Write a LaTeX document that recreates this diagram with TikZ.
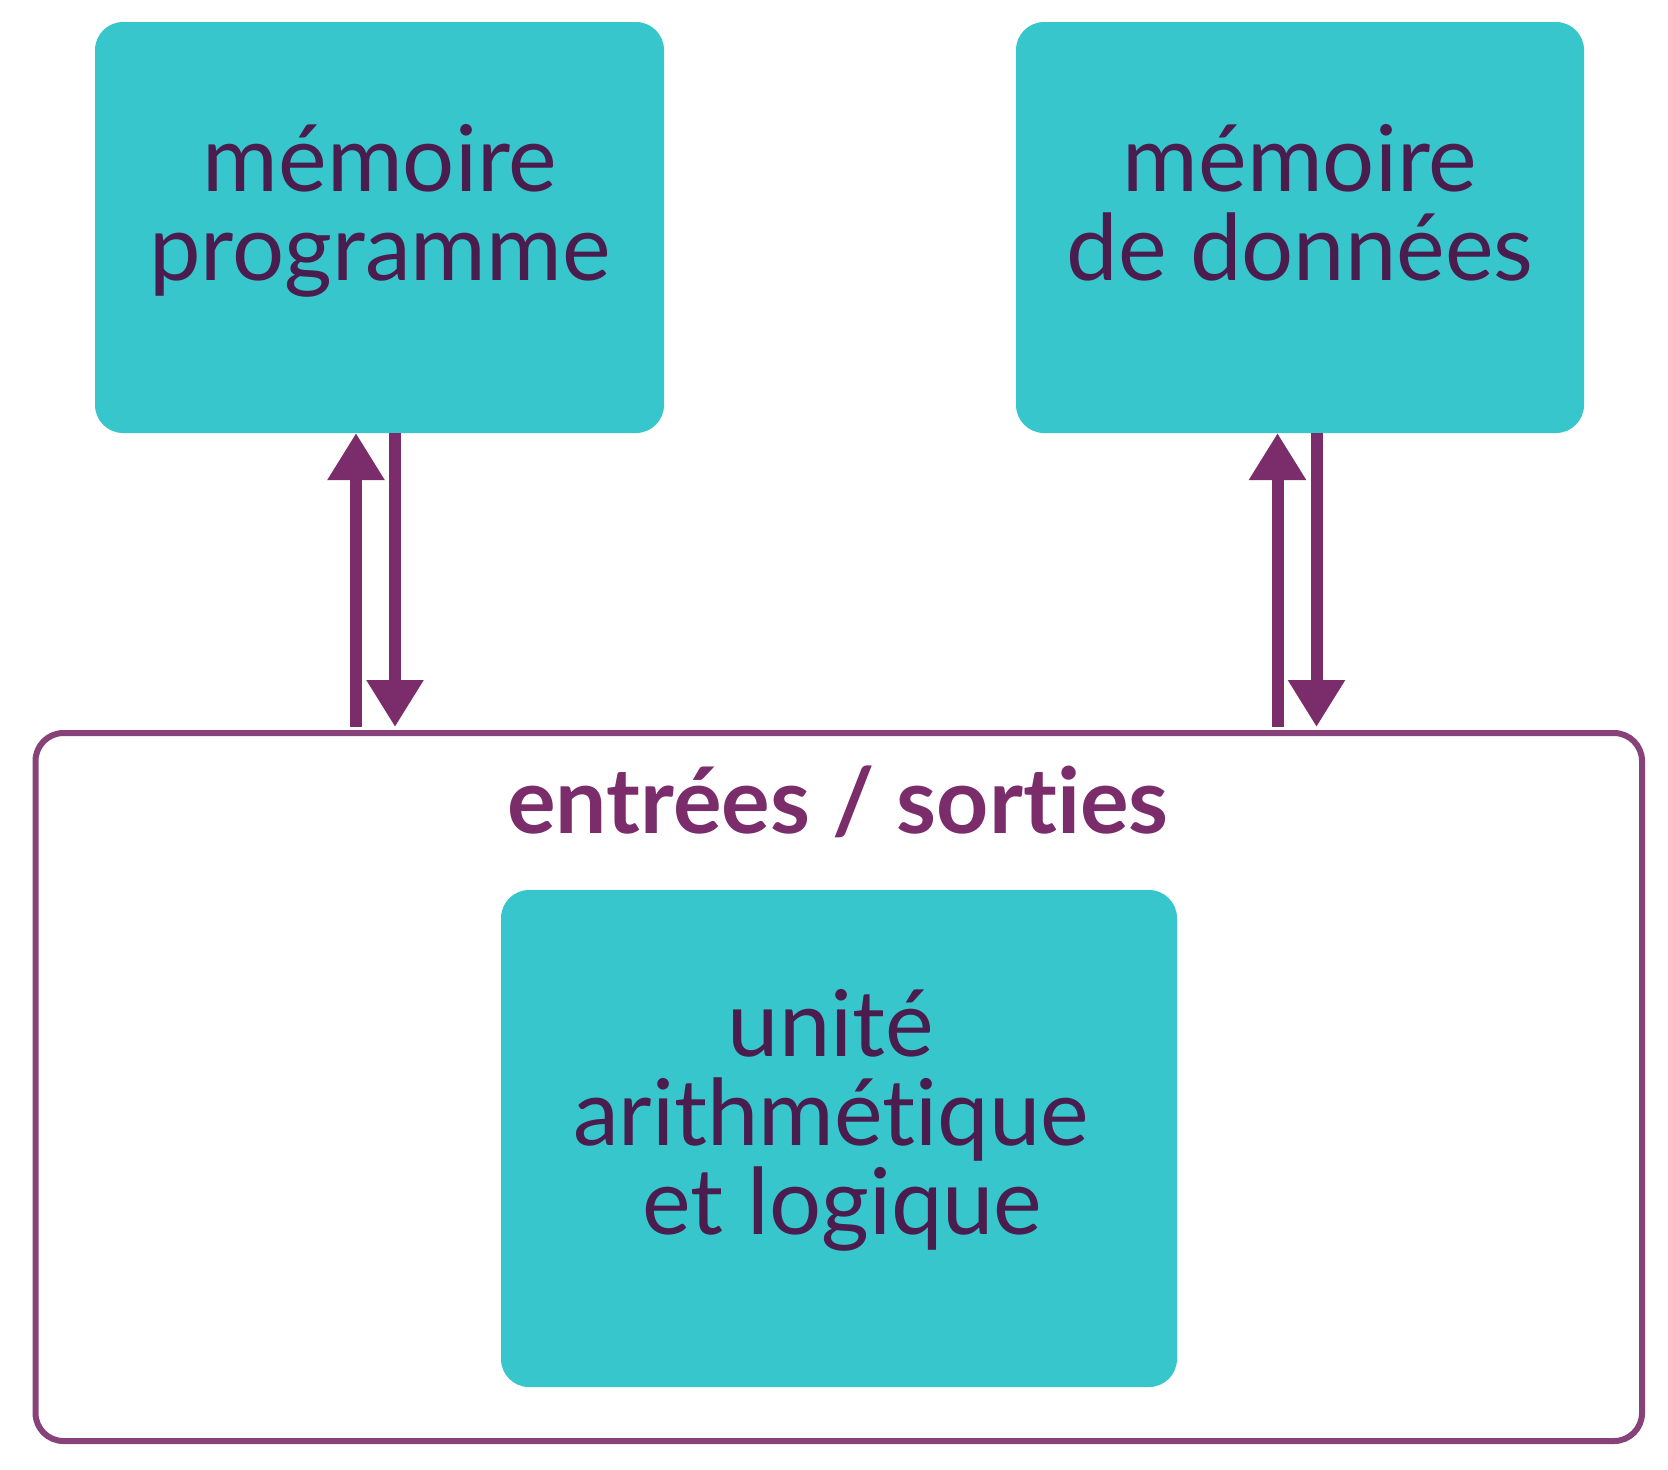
\documentclass[tikz,border=0pt]{standalone}
\usepackage{fontspec}
\setmainfont{Lato}[Ligatures=CommonOff]
\usetikzlibrary{arrows.meta}
\definecolor{tealbox}{HTML}{37C6CC}
\definecolor{inktext}{HTML}{4B1C4E}
\definecolor{plum}{HTML}{7B2C6B}
\definecolor{plumline}{HTML}{874279}
\tikzset{
	membox/.style={fill=tealbox, rounded corners=14pt, inner sep=0pt, outer sep=0pt},
	boxtext/.style={text=inktext, align=center, inner sep=0pt, font=\fontsize{46}{44.5}\selectfont},
	busarrow/.style={draw=plum, line width=6pt, -{Triangle[width=27pt,length=23.5pt]}},
}
\begin{document}
\begin{tikzpicture}[x=0.5pt, y=-0.5pt]
		\useasboundingbox (0,0) rectangle (1668,1469);

		\node[membox, minimum width=284.5pt, minimum height=205.5pt] (prog) at (379.5,227.5) {};
		\node[membox, minimum width=284pt, minimum height=205.5pt] (data) at (1300,227.5) {};
		\node[draw=plumline, line width=3pt, rounded corners=14pt, minimum width=803.25pt, minimum height=354pt, inner sep=0pt] (io) at (838.75,1087) {};
		\node[membox, minimum width=338pt, minimum height=248.5pt] (alu) at (839,1138.5) {};

		% texts, anchored on the last baseline
		\node[boxtext, anchor=base] (progtxt) at (380,280) {mémoire\\programme};
		\node[boxtext, anchor=base] (datatxt) at (1300,280) {mémoire\\de données};
		\node[boxtext, anchor=base] (alutxt) at (831,1234) {unité\\arithmétique\\\hspace{0.25em}et logique};
		\node[text=plum, font=\fontsize{45.5}{45.5}\selectfont\bfseries, inner sep=0pt, anchor=base] (iotitle) at (838,833) {entrées / sorties};

		\draw[busarrow, shorten <=1.5pt] ([xshift=-11.75pt]prog.south |- io.north) -- ([xshift=-11.75pt]prog.south);
		\draw[busarrow, shorten >=1.5pt] ([xshift=7.75pt]prog.south) -- ([xshift=7.75pt]prog.south |- io.north);
		\draw[busarrow, shorten <=1.5pt] ([xshift=-11.25pt]data.south |- io.north) -- ([xshift=-11.25pt]data.south);
		\draw[busarrow, shorten >=1.5pt] ([xshift=8.25pt]data.south) -- ([xshift=8.25pt]data.south |- io.north);
	\end{tikzpicture}
\end{document}
